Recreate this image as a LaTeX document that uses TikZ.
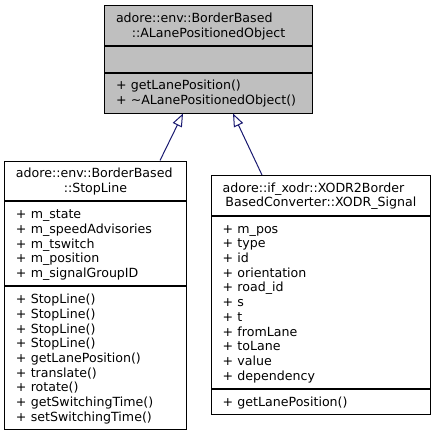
\documentclass[tikz,border=0pt]{standalone}
\usepackage{fontspec}
\setmainfont{DejaVu Sans}
\usetikzlibrary{arrows.meta}
\definecolor{navyline}{RGB}{25,25,112}
\definecolor{rootfill}{RGB}{191,191,191}
\newcommand{\mline}[1]{\mbox{\rule[-3.2pt]{0pt}{14.7pt}#1}}
\newcommand{\lline}[1]{\makebox[\linewidth][l]{\rule[-3.2pt]{0pt}{14.7pt}#1}}
\tikzset{
  comp/.style={draw=black, line width=1pt, fill=white, inner xsep=11.5pt, inner ysep=5.25pt,
    anchor=north west, font=\fontsize{12.6}{14.7}\selectfont, align=left},
  titlecomp/.style={comp, align=center},
  inh/.style={draw=navyline, line width=1pt, -{Triangle[open, length=13pt, width=10pt]}}
}
\begin{document}
\begin{tikzpicture}[x=1pt,y=-1pt]
\useasboundingbox (0,0) rectangle (435,433);
% root class
\node[titlecomp, fill=rootfill, text width=185pt] (tp1) at (104,5.5)
  {\lline{adore::env::BorderBased}\\\mline{::ALanePositionedObject}};
\node[comp, fill=rootfill, text width=185pt] (tp2) at (tp1.south west) {\mline{}};
\node[comp, fill=rootfill, text width=185pt] (tp3) at (tp2.south west)
  {\mline{+ getLanePosition()}\\\mline{+ \textasciitilde ALanePositionedObject()}};
% StopLine
\node[titlecomp, text width=159pt] (sl1) at (4,160.5)
  {\lline{adore::env::BorderBased}\\\mline{::StopLine}};
\node[comp, text width=159pt] (sl2) at (sl1.south west)
  {\mline{+ m\_state}\\\mline{+ m\_speedAdvisories}\\\mline{+ m\_tswitch}\\\mline{+ m\_position}\\\mline{+ m\_signalGroupID}};
\node[comp, text width=159pt] (sl3) at (sl2.south west)
  {\mline{+ StopLine()}\\\mline{+ StopLine()}\\\mline{+ StopLine()}\\\mline{+ StopLine()}\\\mline{+ getLanePosition()}\\\mline{+ translate()}\\\mline{+ rotate()}\\\mline{+ getSwitchingTime()}\\\mline{+ setSwitchingTime()}};
% XODR_Signal
\node[titlecomp, text width=196.3pt] (sg1) at (210.7,175)
  {\lline{adore::if\_xodr::XODR2Border}\\\mline{BasedConverter::XODR\_Signal}};
\node[comp, text width=196.3pt] (sg2) at (sg1.south west)
  {\mline{+ m\_pos}\\\mline{+ type}\\\mline{+ id}\\\mline{+ orientation}\\\mline{+ road\_id}\\\mline{+ s}\\\mline{+ t}\\\mline{+ fromLane}\\\mline{+ toLane}\\\mline{+ value}\\\mline{+ dependency}};
\node[comp, text width=196.3pt] (sg3) at (sg2.south west)
  {\mline{+ getLanePosition()}};
% inheritance
\draw[inh] ([xshift=156pt]sl1.north west) -- ([xshift=79pt]tp3.south west);
\draw[inh] ([xshift=51.3pt]sg1.north west) -- ([xshift=129pt]tp3.south west);
\end{tikzpicture}
\end{document}
